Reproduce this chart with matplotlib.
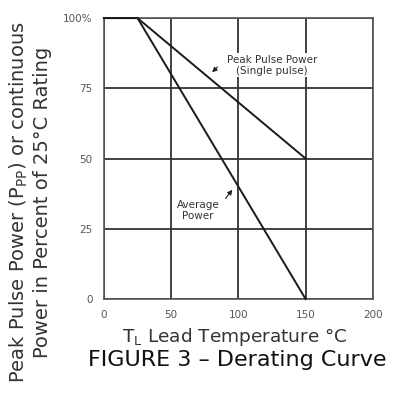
import matplotlib
matplotlib.use("Agg")
from matplotlib import pyplot as plt

# derating curve data
temp = [0, 25, 150]
peak_pulse = [100, 100, 50]
average_power = [100, 100, 0]

x_ticks = [0, 50, 100, 150, 200]
y_ticks = [0, 25, 50, 75, 100]
y_tick_labels = ["0", "25", "50", "75", "100%"]

plt.rcParams['font.family'] = ['DejaVu Sans']

fig = plt.figure(figsize=(3.98, 3.93), dpi=100)
ax = fig.add_axes([0.261, 0.239, 0.676, 0.715])

ax.plot(temp, peak_pulse, color="#1a1a1a", lw=1.4, clip_on=False, zorder=5)
ax.plot(temp, average_power, color="#1a1a1a", lw=1.4, clip_on=False, zorder=5)

ax.set_xlim(0, 200)
ax.set_ylim(0, 100)
ax.set_xticks(x_ticks)
ax.set_yticks(y_ticks)
ax.set_yticklabels(y_tick_labels)
ax.tick_params(length=0, labelsize=7.5, colors="#555555", pad=8)
ax.grid(True, color="#333333", lw=1.3)
for s in ax.spines.values():
    s.set_color("#555555")
    s.set_linewidth(1.2)

# annotations (white box breaks the grid lines like in the datasheet)
box = dict(facecolor="white", edgecolor="none", pad=1)
ax.text(125, 83.2, "Peak Pulse Power\n(Single pulse)", ha="center", va="center",
        fontsize=7.5, color="#333333", linespacing=1.15, bbox=box, zorder=4)
ax.annotate("", xy=(80.5, 80.7), xytext=(84.5, 82.6),
            arrowprops=dict(arrowstyle="-|>", color="#222222", lw=0.8,
                            shrinkA=0, shrinkB=0, mutation_scale=7))
ax.text(70, 31.4, "Average\nPower", ha="center", va="center",
        fontsize=7.5, color="#333333", linespacing=1.15, bbox=box, zorder=4)
ax.annotate("", xy=(95.5, 38.9), xytext=(90.5, 35.8),
            arrowprops=dict(arrowstyle="-|>", color="#222222", lw=0.8,
                            shrinkA=0, shrinkB=0, mutation_scale=7))

fig.text(0.075, 0.486, "Peak Pulse Power (P$_{\\rm PP}$) or continuous\nPower in Percent of 25\u00b0C Rating",
         rotation=90, ha="center", va="center", fontsize=14, color="#333333",
         linespacing=1.15)
fig.text(0.59, 0.143, "T$_{\\rm L}$ Lead Temperature \u00b0C", ha="center", va="center",
         fontsize=13.3, color="#333333")
fig.text(0.596, 0.085, "FIGURE 3 \u2013 Derating Curve", ha="center", va="center",
         fontsize=16, color="#111111")

fig.savefig("out.png", dpi=100)
